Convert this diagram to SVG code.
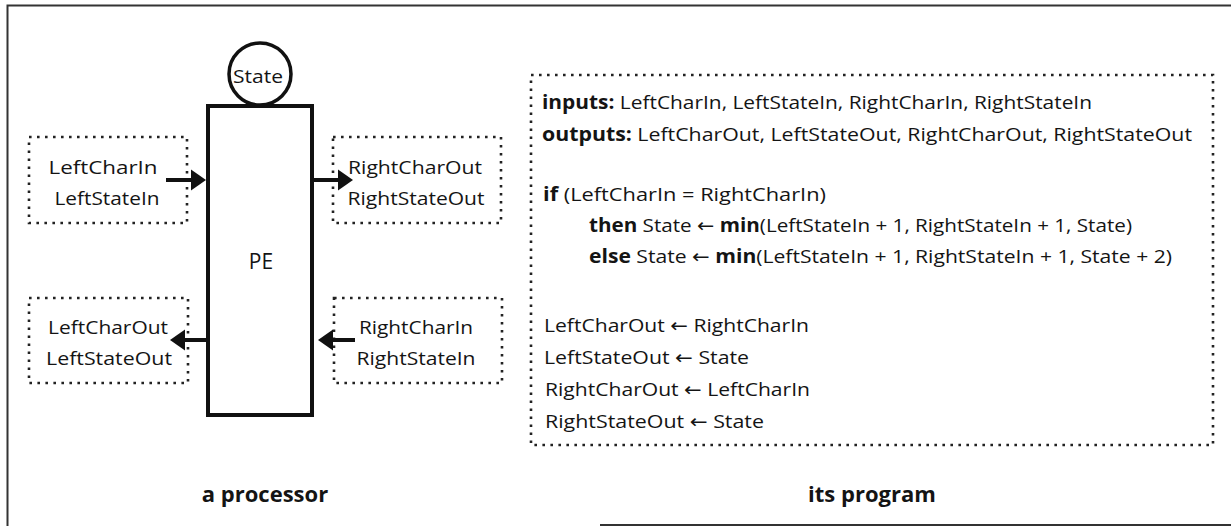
<svg xmlns="http://www.w3.org/2000/svg" width="1231" height="526" viewBox="0 0 1231 526">
  <style>
    .t { font-family: "Open Sans", "DejaVu Sans", sans-serif; fill: #141414; }
    .lbl { font-size: 19px; text-anchor: middle; }
    .code { font-size: 19px; }
    .b { font-weight: 700; }
    .cap { font-size: 22px; font-weight: 700; text-anchor: middle; }
    .dot { fill: none; stroke: #222; stroke-width: 2.6; stroke-dasharray: 2.6 5.4; }
    .frame { fill: none; stroke: #333; stroke-width: 2; }
    .wire { stroke: #111; stroke-width: 4; fill: none; }
    .head { fill: #111; }
  </style>

  <!-- page border -->
  <path class="frame" d="M1231,5.5 H7.5 V526"/>
  <path class="frame" d="M600,525 H1231"/>

  <!-- processing element -->
  <g id="state">
    <circle cx="260" cy="74" r="31" fill="#fff" stroke="#111" stroke-width="3.5"/>
    <text class="t" x="258" y="83" font-size="19" text-anchor="middle" textLength="50" lengthAdjust="spacingAndGlyphs">State</text>
  </g>
  <g id="pe">
    <rect x="208" y="106" width="104" height="309" fill="#fff" stroke="#111" stroke-width="4"/>
    <text class="t" x="261" y="269" font-size="21" text-anchor="middle">PE</text>
  </g>

  <!-- port groups -->
  <g id="left-in">
    <rect class="dot" x="29" y="137" width="158" height="86"/>
    <text class="t lbl" x="103" y="174" textLength="109" lengthAdjust="spacingAndGlyphs">LeftCharIn</text>
    <text class="t lbl" x="107" y="205" textLength="105" lengthAdjust="spacingAndGlyphs">LeftStateIn</text>
  </g>
  <g id="right-out">
    <rect class="dot" x="333" y="137" width="168" height="86"/>
    <text class="t lbl" x="415" y="174" textLength="134" lengthAdjust="spacingAndGlyphs">RightCharOut</text>
    <text class="t lbl" x="416" y="205" textLength="137" lengthAdjust="spacingAndGlyphs">RightStateOut</text>
  </g>
  <g id="left-out">
    <rect class="dot" x="29" y="298" width="159" height="85"/>
    <text class="t lbl" x="108" y="334" textLength="120" lengthAdjust="spacingAndGlyphs">LeftCharOut</text>
    <text class="t lbl" x="109" y="365" textLength="126" lengthAdjust="spacingAndGlyphs">LeftStateOut</text>
  </g>
  <g id="right-in">
    <rect class="dot" x="334" y="298" width="168" height="85"/>
    <text class="t lbl" x="416" y="334" textLength="114" lengthAdjust="spacingAndGlyphs">RightCharIn</text>
    <text class="t lbl" x="416" y="365" textLength="119" lengthAdjust="spacingAndGlyphs">RightStateIn</text>
  </g>

  <!-- connectors -->
  <g id="connectors">
    <line class="wire" x1="166" y1="180" x2="192" y2="180"/>
    <polygon class="head" points="191,169.5 206,180 191,190.5"/>
    <line class="wire" x1="312" y1="180" x2="339" y2="180"/>
    <polygon class="head" points="338,169.5 353,180 338,190.5"/>
    <line class="wire" x1="208" y1="340" x2="184" y2="340"/>
    <polygon class="head" points="185,329.5 170,340 185,350.5"/>
    <line class="wire" x1="355" y1="340" x2="332" y2="340"/>
    <polygon class="head" points="333,329.5 318,340 333,350.5"/>
  </g>

  <!-- program listing -->
  <g id="program">
    <rect class="dot" x="531" y="75" width="682" height="370"/>
    <text class="t code" x="542" y="109" textLength="550" lengthAdjust="spacingAndGlyphs"><tspan class="b">inputs:</tspan>  LeftCharIn, LeftStateIn, RightCharIn, RightStateIn</text>
    <text class="t code" x="542" y="141" textLength="650" lengthAdjust="spacingAndGlyphs"><tspan class="b">outputs:</tspan>  LeftCharOut, LeftStateOut, RightCharOut, RightStateOut</text>
    <text class="t code" x="543" y="201" textLength="283" lengthAdjust="spacingAndGlyphs"><tspan class="b">if</tspan> (LeftCharIn  =  RightCharIn)</text>
    <text class="t code" x="589" y="232" textLength="543" lengthAdjust="spacingAndGlyphs"><tspan class="b">then</tspan> State ← <tspan class="b">min</tspan>(LeftStateIn + 1, RightStateIn + 1, State)</text>
    <text class="t code" x="589" y="263" textLength="583" lengthAdjust="spacingAndGlyphs"><tspan class="b">else</tspan> State ← <tspan class="b">min</tspan>(LeftStateIn + 1, RightStateIn + 1, State + 2)</text>
    <text class="t code" x="544" y="332" textLength="265" lengthAdjust="spacingAndGlyphs">LeftCharOut ← RightCharIn</text>
    <text class="t code" x="544" y="364" textLength="205" lengthAdjust="spacingAndGlyphs">LeftStateOut ← State</text>
    <text class="t code" x="545" y="396" textLength="265" lengthAdjust="spacingAndGlyphs">RightCharOut ← LeftCharIn</text>
    <text class="t code" x="545" y="428" textLength="219" lengthAdjust="spacingAndGlyphs">RightStateOut ← State</text>
  </g>

  <!-- captions -->
  <text class="t cap" x="265" y="502">a processor</text>
  <text class="t cap" x="872" y="502">its program</text>
</svg>
